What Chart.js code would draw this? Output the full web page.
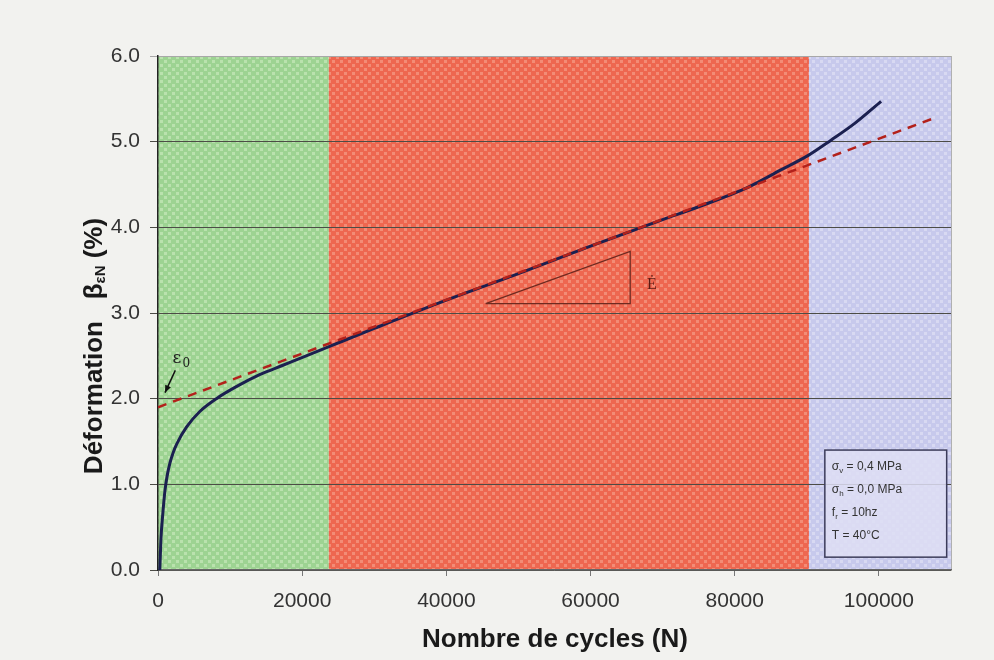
<!DOCTYPE html>
<html>
<head>
<meta charset="utf-8">
<script src="https://cdn.jsdelivr.net/npm/chart.js@4.4.1/dist/chart.umd.min.js"></script>
<style>
  html, body { margin: 0; padding: 0; background: #f2f2ef; }
  #c { display: block; }
</style>
</head>
<body>
<canvas id="c" width="994" height="660"></canvas>
<script>
'use strict';

// ---------- data ----------
const cycles = [250, 400, 650, 970, 1250, 1660, 2100, 2590, 3970, 5800, 8100, 10860, 14100, 17330, 20560, 23800,
  30000, 40000, 50000, 60000, 70000, 75000, 81900, 86400, 90200, 93400, 96600, 100300];
const strain = [0.0, 0.35, 0.64, 0.93, 1.09, 1.25, 1.37, 1.47, 1.67, 1.85, 2.00, 2.14, 2.28, 2.39, 2.50, 2.61,
  2.82, 3.15, 3.46, 3.78, 4.09, 4.24, 4.47, 4.67, 4.84, 5.02, 5.21, 5.47];

const fitN = [0, 107500];
const fitStrain = [1.90, 5.27];

const triN = [45450, 65500, 65500, 45450];
const triStrain = [3.11, 3.11, 3.72, 3.11];

const arrowN = [2400, 970];
const arrowStrain = [2.33, 2.07];

const regionStart = [0, 23700, 90300];
const regionEnd = [23700, 90300, 110000];

const xTicks = [0, 20000, 40000, 60000, 80000, 100000];
const yTicks = [0, 1, 2, 3, 4, 5, 6];

const infoLines = [['σ', 'v', ' = 0,4 MPa'], ['σ', 'h', ' = 0,0 MPa'], ['f', 'r', ' = 10hz'], ['T', '', ' = 40°C']];

// ---------- patterns ----------
function makePattern(base, light) {
  const p = document.createElement('canvas');
  p.width = 8; p.height = 8;
  const g = p.getContext('2d');
  g.fillStyle = base;
  g.fillRect(0, 0, 8, 8);
  g.fillStyle = light;
  g.fillRect(0, 0, 3, 3);
  g.fillRect(4, 4, 3, 3);
  return g.createPattern(p, 'repeat');
}
const regionFill = [
  makePattern('#9dd392', '#bae2ae'),
  makePattern('#ee6750', '#f38c76'),
  makePattern('#c7c9ec', '#d8d9f2'),
];

const xy = (xs, ys) => xs.map((x, i) => ({ x, y: ys[i] }));

// ---------- plugin: fond, régions, annotations ----------
const decor = {
  id: 'decor',
  beforeDraw(chart) {
    const { ctx, chartArea: a, scales: { x } } = chart;
    ctx.save();
    ctx.fillStyle = '#f2f2ef';
    ctx.fillRect(0, 0, chart.width, chart.height);
    for (let i = 0; i < regionStart.length; i++) {
      const x0 = x.getPixelForValue(regionStart[i]);
      const x1 = Math.min(x.getPixelForValue(regionEnd[i]), a.right);
      ctx.fillStyle = regionFill[i];
      ctx.fillRect(x0, a.top, x1 - x0, a.bottom - a.top);
    }
    ctx.strokeStyle = '#b0b0b0';
    ctx.lineWidth = 1;
    ctx.beginPath();
    ctx.moveTo(a.right + 0.5, a.top);
    ctx.lineTo(a.right + 0.5, a.bottom);
    ctx.stroke();
    ctx.restore();
  },
  afterDraw(chart) {
    const { ctx, scales: { x, y } } = chart;
    ctx.save();

    // pointe de flèche (ε0)
    const tx = x.getPixelForValue(arrowN[1]), ty = y.getPixelForValue(arrowStrain[1]);
    const sx = x.getPixelForValue(arrowN[0]), sy = y.getPixelForValue(arrowStrain[0]);
    const ang = Math.atan2(ty - sy, tx - sx);
    ctx.fillStyle = '#111';
    ctx.beginPath();
    ctx.moveTo(tx, ty);
    ctx.lineTo(tx - 8 * Math.cos(ang - 0.4), ty - 8 * Math.sin(ang - 0.4));
    ctx.lineTo(tx - 8 * Math.cos(ang + 0.4), ty - 8 * Math.sin(ang + 0.4));
    ctx.closePath();
    ctx.fill();

    // ε0
    ctx.fillStyle = '#222';
    ctx.font = '17px "DejaVu Serif", "Liberation Serif", serif';
    ctx.textBaseline = 'alphabetic';
    const lx = x.getPixelForValue(2000), ly = y.getPixelForValue(2.42);
    ctx.fillText('ε', lx, ly);
    ctx.font = '12px "DejaVu Serif", "Liberation Serif", serif';
    ctx.fillText('0', lx + 10, ly + 4);

    // vitesse de déformation
    ctx.fillStyle = '#5a1a12';
    ctx.font = '16px "Liberation Serif", serif';
    ctx.textAlign = 'center';
    ctx.fillText('Ė', x.getPixelForValue(68500), y.getPixelForValue(3.28));

    // cadre des conditions d'essai
    const bx0 = x.getPixelForValue(92500), bx1 = x.getPixelForValue(109400);
    const by0 = y.getPixelForValue(1.40), by1 = y.getPixelForValue(0.15);
    ctx.fillStyle = 'rgba(222,222,244,0.85)';
    ctx.fillRect(bx0, by0, bx1 - bx0, by1 - by0);
    ctx.strokeStyle = '#3c3c5a';
    ctx.lineWidth = 1.5;
    ctx.strokeRect(bx0, by0, bx1 - bx0, by1 - by0);
    ctx.textAlign = 'left';
    ctx.fillStyle = '#333';
    infoLines.forEach((l, i) => {
      let px = bx0 + 7;
      const py = by0 + 20 + i * 23;
      ctx.font = '12px "Liberation Sans", Arial, sans-serif';
      ctx.fillText(l[0], px, py);
      px += ctx.measureText(l[0]).width;
      ctx.font = '8px "Liberation Sans", Arial, sans-serif';
      ctx.fillText(l[1], px, py + 3);
      px += ctx.measureText(l[1]).width;
      ctx.font = '12px "Liberation Sans", Arial, sans-serif';
      ctx.fillText(l[2], px, py);
    });

    // titres des axes
    ctx.fillStyle = '#1a1a1a';
    ctx.textAlign = 'center';
    ctx.textBaseline = 'middle';
    ctx.font = 'bold 26px "Liberation Sans", Arial, sans-serif';
    ctx.fillText('Nombre de cycles (N)', 555, 640);

    ctx.translate(95, 346);
    ctx.rotate(-Math.PI / 2);
    const big = 'bold 26px "Liberation Sans", Arial, sans-serif';
    const sub = 'bold 15px "Liberation Sans", Arial, sans-serif';
    const parts = [['Déformation   β', big, 0], ['εN', sub, 6], [' (%)', big, 0]];
    let total = 0;
    for (const [t, f] of parts) { ctx.font = f; total += ctx.measureText(t).width; }
    let cx = -total / 2;
    ctx.textAlign = 'left';
    for (const [t, f, dy] of parts) {
      ctx.font = f;
      ctx.fillText(t, cx, dy);
      cx += ctx.measureText(t).width;
    }
    ctx.restore();
  },
};

// ---------- graphique ----------
const tickFont = { family: '"Liberation Sans", Arial, sans-serif', size: 21 };

new Chart(document.getElementById('c'), {
  type: 'line',
  data: {
    datasets: [
      {
        data: xy(fitN, fitStrain), borderColor: '#b3211b', borderWidth: 2.5,
        borderDash: [9, 7], pointRadius: 0, order: 0,
      },
      {
        data: xy(cycles, strain), borderColor: '#1b2050', borderWidth: 3,
        pointRadius: 0, cubicInterpolationMode: 'monotone', order: 1,
      },
      {
        data: xy(triN, triStrain), borderColor: '#6e2a20', borderWidth: 1.3,
        pointRadius: 0, tension: 0, order: 2,
      },
      {
        data: xy(arrowN, arrowStrain), borderColor: '#111', borderWidth: 1.5,
        pointRadius: 0, order: 2,
      },
    ],
  },
  options: {
    responsive: false,
    animation: false,
    devicePixelRatio: 1,
    layout: { padding: { top: 56, right: 43, left: 0, bottom: 0 } },
    plugins: { legend: { display: false }, tooltip: { enabled: false } },
    scales: {
      x: {
        type: 'linear', min: 0, max: 110000,
        afterFit: (s) => { s.height = 90; },
        afterBuildTicks: (s) => { s.ticks = xTicks.map((v) => ({ value: v })); },
        grid: { drawOnChartArea: false, drawTicks: true, tickLength: 6, color: '#777' },
        border: { display: true, color: '#666', width: 1.5 },
        ticks: { color: '#333', font: tickFont, padding: 13, maxRotation: 0, callback: (v) => String(v) },
      },
      y: {
        min: 0, max: 6,
        afterFit: (s) => { s.width = 158; },
        afterBuildTicks: (s) => { s.ticks = yTicks.map((v) => ({ value: v })); },
        grid: {
          color: (c) => (c.tick && c.tick.value === 6 ? '#a8a8a8' : '#4c4c46'),
          lineWidth: 1, tickLength: 8,
        },
        border: { display: true, color: '#222', width: 1.5 },
        ticks: { color: '#333', font: tickFont, padding: 10, callback: (v) => v.toFixed(1) },
      },
    },
  },
  plugins: [decor],
});
</script>
</body>
</html>
